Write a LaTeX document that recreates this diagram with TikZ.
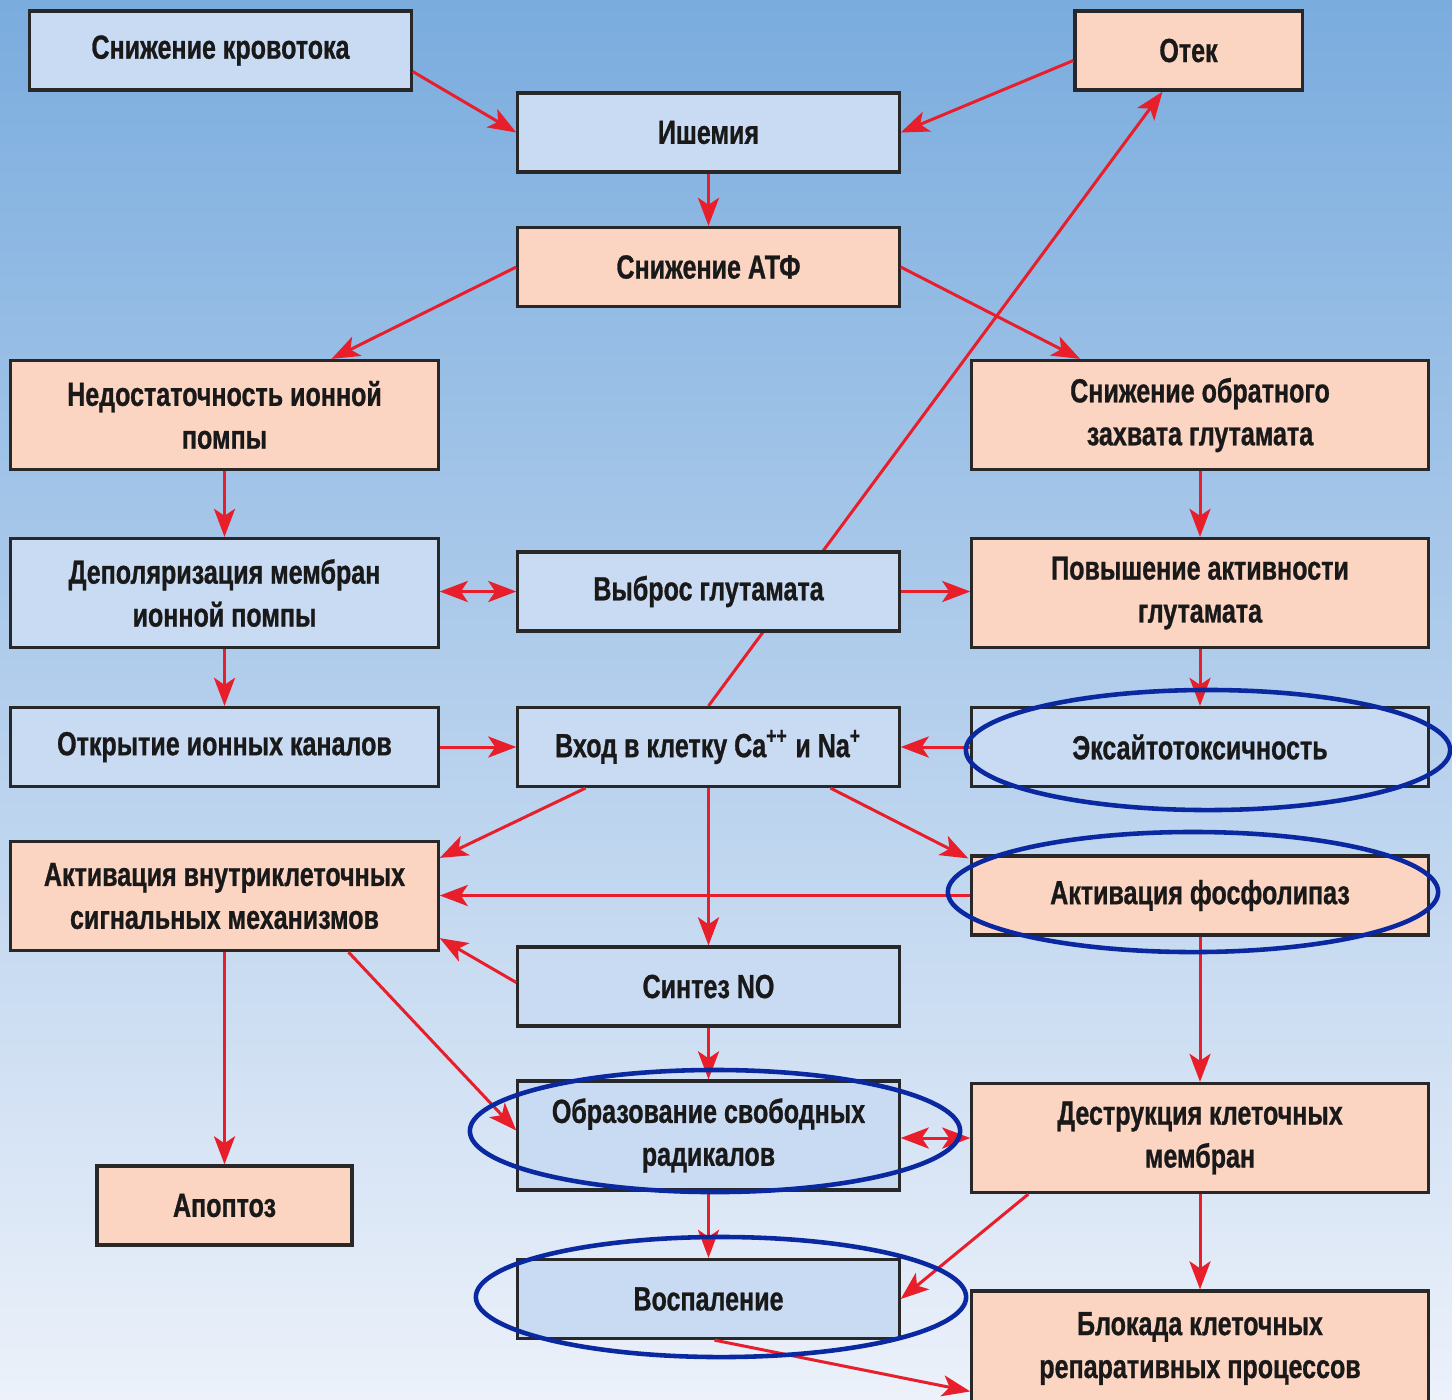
\documentclass[tikz,border=0pt]{standalone}
\usepackage{fontspec}
\setmainfont{Liberation Sans}[FakeStretch=0.75, BoldFeatures={FakeBold=0.8}]
\usetikzlibrary{arrows.meta,calc}
\pgfdeclarelayer{back}
\pgfsetlayers{back,main}
\definecolor{bgtop}{RGB}{122,172,222}
\definecolor{bgmid}{RGB}{170,201,234}
\definecolor{bgbot}{RGB}{236,241,250}
\definecolor{boxblue}{RGB}{201,219,242}
\definecolor{boxpeach}{RGB}{252,212,194}
\definecolor{boxline}{RGB}{40,40,40}
\definecolor{arrred}{RGB}{232,30,42}
\definecolor{ringblue}{RGB}{10,40,160}

\tikzset{
  box/.style={draw=boxline, line width=0.9pt, inner sep=0pt, align=center,
    font=\fontsize{9.5}{12.2}\selectfont\bfseries, text=black!90},
  bluebox/.style={box, fill=boxblue},
  peachbox/.style={box, fill=boxpeach},
  wmid/.style={minimum width=3.81cm},
  wside/.style={minimum width=4.27cm},
  wwide/.style={minimum width=4.56cm},
  hlow/.style={minimum height=0.79cm},
  htall/.style={minimum height=1.09cm},
  arr/.style={draw=arrred, line width=0.85pt, -{Stealth[length=8pt,width=6pt,inset=2pt]}},
  darr/.style={arr, {Stealth[length=8pt,width=6pt,inset=2pt]}-{Stealth[length=8pt,width=6pt,inset=2pt]}},
  ring/.style={draw=ringblue, line width=1.3pt},
}

\begin{document}
\begin{tikzpicture}[x=0.01cm, y=-0.01cm]
  \useasboundingbox (0,0) rectangle (1452,1399);

  \node[bluebox, wmid, hlow] (krov) at (220.5,50.5) {Снижение кровотока};
  \node[bluebox, wmid, hlow] (ishem) at (708.5,132.5) {Ишемия};
  \node[peachbox, hlow, minimum width=2.27cm] (otek) at (1188.5,50.5) {Отек};
  \node[peachbox, wmid, hlow] (atf) at (708.5,267) {Снижение АТФ};
  \node[peachbox, wside, htall] (nedost) at (224.5,415) {Недостаточность ионной\\помпы};
  \node[peachbox, wwide, htall] (zahvat) at (1200,415) {Снижение обратного\\захвата глутамата};
  \node[bluebox, wside, htall] (depol) at (224.5,593) {Деполяризация мембран\\ионной помпы};
  \node[bluebox, wmid, hlow] (vybros) at (708.5,591.5) {Выброс глутамата};
  \node[peachbox, wwide, htall] (povysh) at (1200,593) {Повышение активности\\глутамата};
  \node[bluebox, wside, hlow] (otkr) at (224.5,747) {Открытие ионных каналов};
  \node[bluebox, wmid, hlow] (vhod) at (708.5,747) {Вход в клетку Ca\textsuperscript{++} и Na\textsuperscript{+}};
  \node[bluebox, wwide, hlow] (excit) at (1200,747) {Эксайтотоксичность};
  \node[peachbox, wside, htall] (aktiv) at (224.5,896) {Активация внутриклеточных\\сигнальных механизмов};
  \node[peachbox, wwide, hlow] (fosfo) at (1200,895.5) {Активация фосфолипаз};
  \node[bluebox, wmid, hlow] (sintez) at (708.5,986.5) {Синтез NO};
  \node[bluebox, wmid, htall] (radik) at (708.5,1135.5) {Образование свободных\\радикалов};
  \node[peachbox, wwide, htall] (destr) at (1200,1138) {Деструкция клеточных\\мембран};
  \node[peachbox, hlow, minimum width=2.55cm] (apopt) at (224.5,1205.5) {Апоптоз};
  \node[bluebox, wmid, hlow] (vospal) at (708.5,1299) {Воспаление};
  \node[peachbox, wwide, minimum height=1.15cm] (blok) at (1200,1348.5) {Блокада клеточных\\репаративных процессов};

  \draw[arr] ($(krov.east)+(0,21)$) -- (ishem.west);
  \draw[arr] ($(otek.west)+(0,10)$) -- (ishem.east);
  \draw[arr] (ishem) -- (atf);
  \draw[arr] (atf.west) -- ($(nedost.north)+(107,0)$);
  \draw[arr] (atf.east) -- ($(zahvat.north)+(-120,0)$);
  \draw[arr] (nedost) -- (depol);
  \draw[arr] (zahvat) -- (povysh);
  \draw[darr] (depol.east |- vybros.west) -- (vybros.west);
  \draw[arr] (vybros.east) -- (vybros.east -| povysh.west);
  \draw[arr] (depol) -- (otkr);
  \draw[arr] (povysh) -- (excit);
  \draw[arr] (otkr) -- (vhod);
  \draw[arr] (excit) -- (vhod);
  \draw[arr] ($(vhod.south)+(-123,0)$) -- ($(aktiv.north east)+(0,18)$);
  \draw[arr] (vhod) -- (sintez);
  \draw[arr] ($(vhod.south)+(122,0)$) -- ($(fosfo.north west)+(-2,4)$);
  \draw[arr] (fosfo.west) -- (fosfo.west -| aktiv.east);
  \draw[arr] ($(sintez.west)+(0,-4)$) -- ($(aktiv.south east)+(0,-14)$);
  \draw[arr] (aktiv.south) -- (apopt.north);
  \draw[arr] ($(aktiv.south)+(124,0)$) -- ($(radik.west)+(0,-5)$);
  \draw[arr] (sintez) -- (radik);
  \draw[arr] (fosfo) -- (destr);
  \draw[darr] (radik.east |- destr.west) -- (destr.west);
  \draw[arr] ($(destr.south west)+(58,0)$) -- (vospal.east);
  \draw[arr] (destr) -- (blok);
  \draw[arr] (radik) -- (vospal);
  \draw[arr] ($(vospal.south)+(6,0)$) -- ($(blok.north west)+(0,102)$);

  \draw[ring] ($(excit)+(8,3)$) ellipse [x radius=2.42cm, y radius=0.6cm];
  \draw[ring] ($(fosfo)+(-7,-3.5)$) ellipse [x radius=2.45cm, y radius=0.6cm];
  \draw[ring] ($(radik)+(6.5,-4.5)$) ellipse [x radius=2.45cm, y radius=0.61cm];
  \draw[ring] ($(vospal)+(12.5,-2)$) ellipse [x radius=2.45cm, y radius=0.6cm];

  \begin{pgfonlayer}{back}
    \shade[top color=bgtop, middle color=bgmid, bottom color=bgbot] (0,0) rectangle (1452,1399);
    \draw[arr] (vhod.north) -- ($(otek.south)+(-26,0)$);
  \end{pgfonlayer}
\end{tikzpicture}
\end{document}
